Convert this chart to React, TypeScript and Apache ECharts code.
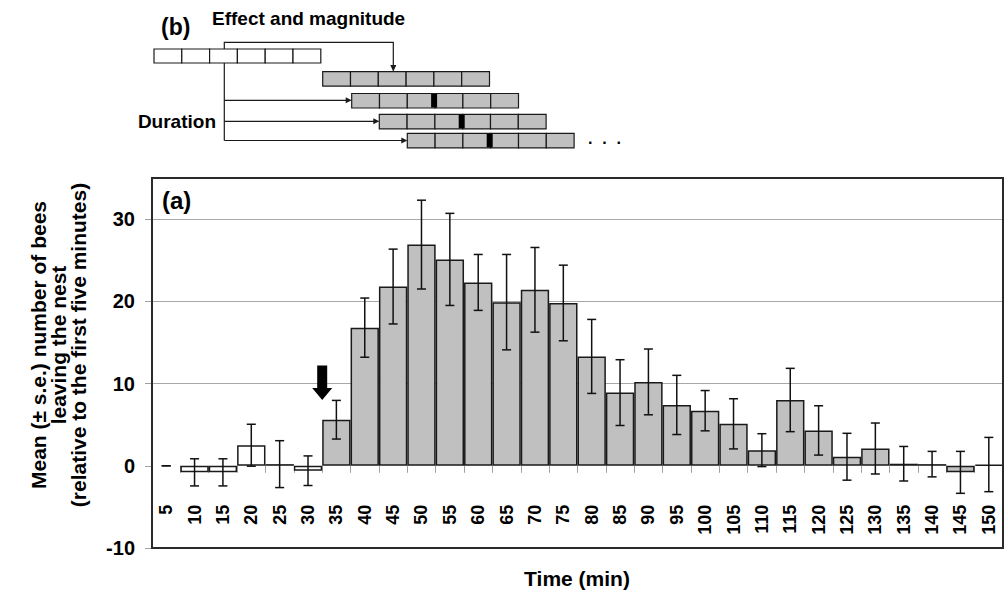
import React, { useEffect, useRef } from 'react';
import * as echarts from 'echarts';

// ---- data ----
const categories = ['5', '10', '15', '20', '25', '30', '35', '40', '45', '50', '55', '60', '65', '70', '75', '80', '85', '90', '95', '100', '105', '110', '115', '120', '125', '130', '135', '140', '145', '150'];
const means = [0, -0.8, -0.8, 2.5, 0.2, -0.6, 5.6, 16.8, 21.8, 26.9, 25.1, 22.3, 19.9, 21.4, 19.8, 13.3, 8.9, 10.2, 7.4, 6.7, 5.1, 1.9, 8.0, 4.3, 1.1, 2.1, 0.25, 0.2, -0.8, 0.15];
const stdErrors = [0, 1.65, 1.65, 2.55, 2.85, 1.8, 2.35, 3.6, 4.55, 5.4, 5.6, 3.4, 5.8, 5.15, 4.6, 4.5, 4.0, 4.0, 3.6, 2.45, 3.05, 2.0, 3.85, 3.0, 2.85, 3.1, 2.1, 1.55, 2.55, 3.3];
const preTreatment = ['5', '10', '15', '20', '25', '30'];
const yTicks = [-10, 0, 10, 20, 30];
const Y_MIN = -10;
const Y_MAX = 35;
// arrow marking treatment onset: between category index 5 and 6, from value 12.2 down to 8.0
const arrowMark = [5, 12.2, 8.0];

const FONT = '"Liberation Sans", Arial, Helvetica, sans-serif';
const GRID = { left: 152, right: 3, top: 178, bottom: 43 };
const W = 1006;
const H = 591;
const PLOT_H = H - GRID.top - GRID.bottom;
const ZERO_OFFSET = -((0 - Y_MIN) / (Y_MAX - Y_MIN)) * PLOT_H;
const LABEL_GAP = 39;

function buildDiagram(): any[] {
  const cellW = 27.8;
  const els: any[] = [];
  const stroke = '#1a1a1a';
  const row = (x0: number, y0: number, h: number, fill: string, marker: boolean) => {
    for (let i = 0; i < 6; i++) {
      els.push({ type: 'rect', shape: { x: x0 + i * cellW, y: y0, width: cellW, height: h }, style: { fill, stroke, lineWidth: 1.2 } });
    }
    if (marker) {
      els.push({ type: 'rect', shape: { x: x0 + 3 * cellW - 4, y: y0 + 0.5, width: 6, height: h - 1 }, style: { fill: '#000' } });
    }
  };
  row(154, 49, 14, '#fff', false);
  const gx = [322.7, 351.7, 379.3, 407.3];
  const gy = [71.7, 93.5, 114.3, 133.3];
  gx.forEach((x, k) => row(x, gy[k], 14.5, '#c0c0c0', k > 0));
  const ls = { stroke, lineWidth: 1.2 };
  const vx = 224.3;
  els.push({ type: 'polyline', shape: { points: [[vx, 49], [vx, 42.3], [393.3, 42.3], [393.3, 66]] }, style: { ...ls, fill: 'none' } });
  els.push({ type: 'polygon', shape: { points: [[390.3, 65], [396.3, 65], [393.3, 71.7]] }, style: { fill: stroke } });
  els.push({ type: 'line', shape: { x1: vx, y1: 63, x2: vx, y2: 140.5 }, style: ls });
  const ay = [100.3, 121.3, 140.5];
  ay.forEach((y, k) => {
    const xe = gx[k + 1];
    els.push({ type: 'line', shape: { x1: vx, y1: y, x2: xe - 5, y2: y }, style: ls });
    els.push({ type: 'polygon', shape: { points: [[xe - 6, y - 3], [xe - 6, y + 3], [xe, y]] }, style: { fill: stroke } });
  });
  els.push({ type: 'text', x: 161, y: 27, style: { text: '(b)', font: `bold 23px ${FONT}`, fill: '#000', textVerticalAlign: 'middle' } });
  els.push({ type: 'text', x: 212, y: 18, style: { text: 'Effect and magnitude', font: `bold 19px ${FONT}`, fill: '#000', textVerticalAlign: 'middle' } });
  els.push({ type: 'text', x: 216, y: 121, style: { text: 'Duration', font: `bold 19px ${FONT}`, fill: '#000', textAlign: 'right', textVerticalAlign: 'middle' } });
  els.push({ type: 'text', x: 588, y: 142, style: { text: '·  ·  ·', font: `bold 16px ${FONT}`, fill: '#000', textVerticalAlign: 'middle' } });
  return els;
}

export default function App() {
  const ref = useRef<HTMLDivElement>(null);
  useEffect(() => {
    const chart = echarts.init(ref.current!, null, { renderer: 'svg' });
    const barData = means.map((v, i) => ({
      value: v,
      itemStyle: {
        color: preTreatment.includes(categories[i]) ? '#ffffff' : '#c0c0c0',
        borderWidth: v === 0 && stdErrors[i] === 0 ? 0 : 1.5,
      },
    }));
    const errData = means.map((m, i) => [i, m, stdErrors[i]]);
    const labelData = categories.map((c, i) => [i, 0]);
    const option: any = {
      animation: false,
      backgroundColor: '#fff',
      grid: { ...GRID, show: false },
      xAxis: {
        type: 'category',
        data: categories,
        boundaryGap: true,
        position: 'bottom',
        offset: ZERO_OFFSET,
        axisLine: { show: true, onZero: false, lineStyle: { color: 'rgba(0,0,0,0)' } },
        axisTick: { show: true, interval: 0, alignWithLabel: false, length: 7, lineStyle: { color: '#a0a0a0', width: 1 } },
        axisLabel: { show: false },
        splitLine: { show: false },
      },
      yAxis: {
        type: 'value',
        min: Y_MIN,
        max: Y_MAX,
        interval: 10,
        axisLine: { show: false },
        axisTick: { show: true, length: 7, lineStyle: { color: '#a0a0a0' } },
        axisLabel: {
          showMaxLabel: false,
          margin: 17,
          color: '#000',
          fontWeight: 'bold',
          fontSize: 20,
          fontFamily: FONT,
          formatter: (v: number) => (yTicks.includes(v) ? String(v) : ''),
        },
        splitLine: { show: true, lineStyle: { color: ['rgba(0,0,0,0)', 'rgba(0,0,0,0)', '#a8a8a8', '#a8a8a8', '#a8a8a8', 'rgba(0,0,0,0)'], width: 1 } },
      },
      series: [
        {
          type: 'bar',
          data: barData,
          barCategoryGap: '0%',
          itemStyle: { borderColor: '#1a1a1a' },
          z: 2,
        },
        {
          type: 'custom',
          data: errData,
          encode: { x: 0, y: 1 },
          z: 3,
          renderItem: (params: any, api: any) => {
            const i = api.value(0);
            const m = api.value(1);
            const e = api.value(2);
            const top = api.coord([i, m + e]);
            const bot = api.coord([i, m - e]);
            const hw = 4.5;
            const st = { stroke: '#111', lineWidth: 1.5 };
            return {
              type: 'group',
              children: [
                { type: 'line', shape: { x1: top[0], y1: top[1], x2: bot[0], y2: bot[1] }, style: st },
                { type: 'line', shape: { x1: top[0] - hw, y1: top[1], x2: top[0] + hw, y2: top[1] }, style: st },
                { type: 'line', shape: { x1: bot[0] - hw, y1: bot[1], x2: bot[0] + hw, y2: bot[1] }, style: st },
              ],
            };
          },
        },
        {
          // category tick labels, rotated and hanging below the zero line
          type: 'custom',
          data: labelData,
          encode: { x: 0, y: 1 },
          z: 5,
          silent: true,
          renderItem: (params: any, api: any) => {
            const i = api.value(0);
            const p = api.coord([i, api.value(1)]);
            return {
              type: 'text',
              x: p[0],
              y: p[1] + LABEL_GAP,
              rotation: Math.PI / 2,
              style: {
                text: categories[i],
                font: `bold 18px ${FONT}`,
                fill: '#000',
                textAlign: 'right',
                textVerticalAlign: 'middle',
              },
            };
          },
        },
        {
          type: 'custom',
          data: [arrowMark],
          encode: { x: 0, y: 1 },
          z: 4,
          renderItem: (params: any, api: any) => {
            const i = api.value(0);
            const a = api.coord([i, api.value(1)]);
            const b = api.coord([i + 1, api.value(1)]);
            const tip = api.coord([i, api.value(2)]);
            const x = (a[0] + b[0]) / 2;
            const y0 = a[1];
            const y1 = tip[1];
            const hy = y1 - 12;
            return {
              type: 'polygon',
              shape: { points: [[x - 5, y0], [x + 5, y0], [x + 5, hy], [x + 10, hy], [x, y1], [x - 10, hy], [x - 5, hy]] },
              style: { fill: '#000' },
            };
          },
        },
      ],
      graphic: [
        {
          type: 'rect',
          z: 100,
          shape: { x: GRID.left, y: GRID.top, width: W - GRID.left - GRID.right, height: PLOT_H },
          style: { fill: 'none', stroke: '#2a2a2a', lineWidth: 2 },
        },
        { type: 'text', z: 100, x: 162, y: 200, style: { text: '(a)', font: `bold 24px ${FONT}`, fill: '#000', textVerticalAlign: 'middle' } },
        {
          type: 'text',
          z: 100,
          x: 58,
          y: 345,
          rotation: Math.PI / 2,
          style: {
            text: 'Mean (± s.e.) number of bees\nleaving the nest\n(relative to the first five minutes)',
            font: `bold 21px ${FONT}`,
            lineHeight: 20,
            fill: '#000',
            textAlign: 'center',
            textVerticalAlign: 'middle',
          },
        },
        { type: 'text', z: 100, x: 577, y: 578, style: { text: 'Time (min)', font: `bold 21px ${FONT}`, fill: '#000', textAlign: 'center', textVerticalAlign: 'middle' } },
        ...buildDiagram(),
      ],
    };
    chart.setOption(option);
    return () => chart.dispose();
  }, []);
  return <div ref={ref} style={{ position: 'absolute', left: 0, top: 0, width: W, height: H }} />;
}
